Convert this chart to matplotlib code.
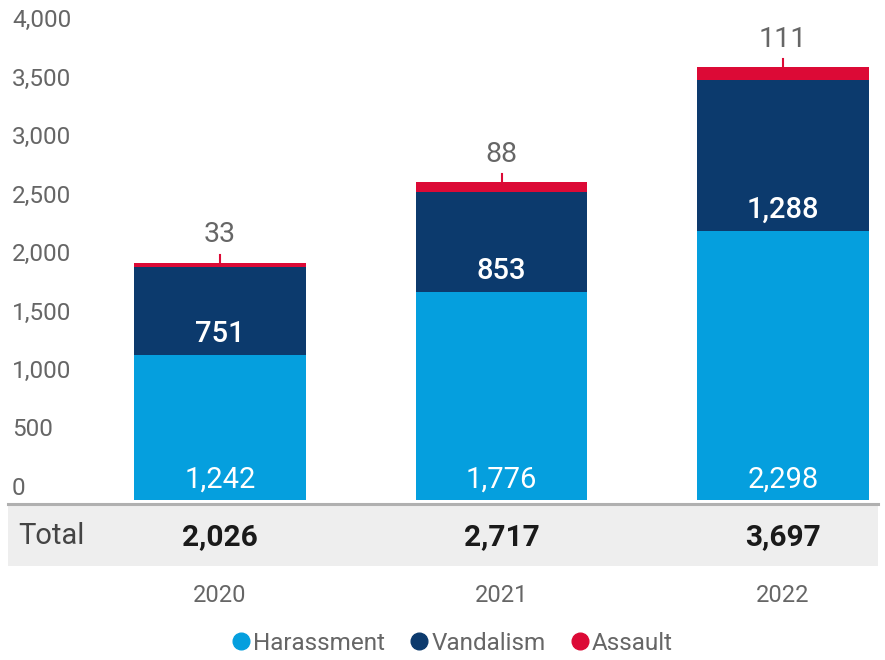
import matplotlib
matplotlib.use("Agg")
import matplotlib.pyplot as plt
import matplotlib.transforms as mtransforms
from matplotlib.patches import Rectangle
from matplotlib.lines import Line2D
import numpy as np

plt.rcParams['font.family'] = ['Roboto', 'DejaVu Sans']

years = ["2020", "2021", "2022"]
harassment = [1242, 1776, 2298]
vandalism = [751, 853, 1288]
assault = [33, 88, 111]
totals = [2026, 2717, 3697]
yticks = [0, 500, 1000, 1500, 2000, 2500, 3000, 3500, 4000]

c_har = "#059FDE"
c_van = "#0C3A6D"
c_ass = "#DC0A36"
grey_txt = "#666666"

W, H = 885, 660
fig = plt.figure(figsize=(W / 100, H / 100), dpi=100)

def fy(py):
    return 1 - py / H

ax = fig.add_axes([0, fy(500), 1, fy(32) - fy(500)])
ax.set_zorder(2)
ax.patch.set_visible(False)
ax.set_xlim(-220 / 281.5, (885 - 220) / 281.5)
ax.set_ylim(0, 4000)
for s in ax.spines.values():
    s.set_visible(False)

x = np.arange(len(years))
w = 0.611
h = np.array(harassment)
v = np.array(vandalism)
a = np.array(assault)
ax.bar(x, h, w, color=c_har, label="Harassment")
ax.bar(x, v, w, bottom=h, color=c_van, label="Vandalism")
ax.bar(x, a, w, bottom=h + v, color=c_ass, label="Assault")

# y ticks
ax.set_yticks(yticks)
ax.set_yticklabels([f"{t:,}" for t in yticks])
ax.tick_params(axis='y', length=0, pad=-8.6, labelsize=17.5, labelcolor=grey_txt)
off = mtransforms.ScaledTranslation(0, 14 / 100, fig.dpi_scale_trans)
for lab in ax.get_yticklabels():
    lab.set_horizontalalignment('left')
    lab.set_transform(lab.get_transform() + off)
ax.set_xticks([])

px = 1 / 0.117  # data units per pixel
# inside labels
for xi, hv in zip(x, h):
    ax.text(xi, 20 * px, f"{hv:,}", ha='center', va='center', color='white', fontsize=21)
for xi, hb, vv in zip(x, h, v):
    ax.text(xi, hb + 21 * px, f"{vv:,}", ha='center', va='center', color='white',
            fontsize=21, fontweight='medium')
# assault labels
for xi, top, av in zip(x, h + v + a, a):
    ax.plot([xi, xi], [top, top + 8 * px], color=c_ass, lw=1.5)
    ax.text(xi, top + 28 * px, f"{av:,}", ha='center', va='center', color=grey_txt,
            fontsize=20.5)

# total band
fig.patches.append(Rectangle((8 / W, fy(566)), (878 - 8) / W, fy(503) - fy(566),
                             transform=fig.transFigure, facecolor="#eeeeee",
                             edgecolor='none', zorder=-1))
fig.lines.append(Line2D([8 / W, 878 / W], [fy(503.5), fy(503.5)], transform=fig.transFigure,
                        color="#b0b0b0", lw=2.2, zorder=-0.5))
trans = mtransforms.blended_transform_factory(ax.transData, fig.transFigure)
fig.text(18 / W, fy(536), "Total", ha='left', va='center', fontsize=21, color="#444444")
for xi, t in zip(x, totals):
    ax.text(xi, fy(537), f"{t:,}", transform=trans, ha='center', va='center',
            fontsize=21.5, fontweight='bold', color="#1a1a1a", clip_on=False)
for xi, yr in zip(x, years):
    ax.text(xi, fy(596), yr, transform=trans, ha='center', va='center',
            fontsize=17, color=grey_txt, clip_on=False)

handles = [Line2D([], [], marker='o', linestyle='none', markersize=12, color=c)
           for c in (c_har, c_van, c_ass)]
leg = fig.legend(handles, ["Harassment", "Vandalism", "Assault"], loc='center',
                 bbox_to_anchor=(451 / W, fy(643)), ncol=3, frameon=False,
                 fontsize=17.5, handletextpad=0.0, columnspacing=0.9, handlelength=1.0)
for t in leg.get_texts():
    t.set_color(grey_txt)

fig.savefig("out.png", dpi=100)
